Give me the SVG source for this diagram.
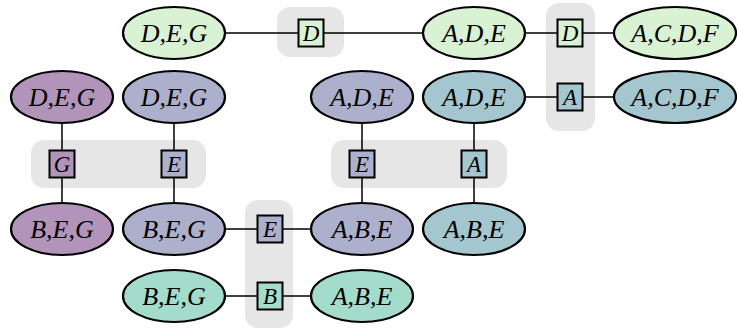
<svg xmlns="http://www.w3.org/2000/svg" width="737" height="329" viewBox="0 0 737 329">
<style>
.bg{fill:#e6e6e6;stroke:none}
.e{stroke:#000;stroke-width:2.2}
.s{stroke:#000;stroke-width:2}
.c{stroke:#000;stroke-width:1.5;fill:none}
.t,.ts{font-family:'Liberation Serif','DejaVu Serif',serif;font-style:italic;text-anchor:middle;dominant-baseline:central;fill:#000}
.t{font-size:26px}
.ts{font-size:23px}
.g{fill:#d9f2d4}.p{fill:#b294ba}.l{fill:#adb0cc}.b{fill:#a4c6ce}.m{fill:#a4dccc}
</style>
<g id="groups">
<rect class="bg" x="277" y="7" width="67" height="50" rx="13"/>
<rect class="bg" x="546" y="3" width="49" height="128" rx="13"/>
<rect class="bg" x="31" y="140" width="175" height="48" rx="13"/>
<rect class="bg" x="331" y="140" width="176" height="48" rx="13"/>
<rect class="bg" x="245" y="200" width="48" height="128" rx="13"/>
</g>
<g id="connectors">
<path class="c" d="M226 33H423M526 33H614M526 97H614"/>
<path class="c" d="M62 123V203M174 123V203M362 123V203M474 123V203"/>
<path class="c" d="M226 229H311M226 296H311"/>
</g>
<g id="n1"><ellipse class="e g" cx="174" cy="33" rx="51" ry="26"/><text class="t" x="174" y="33">D,E,G</text></g>
<g id="n2"><ellipse class="e g" cx="474" cy="33" rx="51" ry="26"/><text class="t" x="474" y="33">A,D,E</text></g>
<g id="n3"><ellipse class="e g" cx="675" cy="33" rx="61" ry="26"/><text class="t" x="675" y="33">A,C,D,F</text></g>
<g id="n4"><ellipse class="e p" cx="62" cy="97" rx="51" ry="26"/><text class="t" x="62" y="97">D,E,G</text></g>
<g id="n5"><ellipse class="e l" cx="174" cy="97" rx="51" ry="26"/><text class="t" x="174" y="97">D,E,G</text></g>
<g id="n6"><ellipse class="e l" cx="362" cy="97" rx="51" ry="26"/><text class="t" x="362" y="97">A,D,E</text></g>
<g id="n7"><ellipse class="e b" cx="474" cy="97" rx="51" ry="26"/><text class="t" x="474" y="97">A,D,E</text></g>
<g id="n8"><ellipse class="e b" cx="675" cy="97" rx="61" ry="26"/><text class="t" x="675" y="97">A,C,D,F</text></g>
<g id="n9"><ellipse class="e p" cx="62" cy="229" rx="51" ry="26"/><text class="t" x="62" y="229">B,E,G</text></g>
<g id="n10"><ellipse class="e l" cx="174" cy="229" rx="51" ry="26"/><text class="t" x="174" y="229">B,E,G</text></g>
<g id="n11"><ellipse class="e l" cx="362" cy="229" rx="51" ry="26"/><text class="t" x="362" y="229">A,B,E</text></g>
<g id="n12"><ellipse class="e b" cx="474" cy="229" rx="51" ry="26"/><text class="t" x="474" y="229">A,B,E</text></g>
<g id="n13"><ellipse class="e m" cx="174" cy="296" rx="51" ry="26"/><text class="t" x="174" y="296">B,E,G</text></g>
<g id="n14"><ellipse class="e m" cx="362" cy="296" rx="51" ry="26"/><text class="t" x="362" y="296">A,B,E</text></g>
<g id="s1"><rect class="s g" x="298.5" y="19.5" width="25" height="27"/><text class="ts" x="311" y="33">D</text></g>
<g id="s2"><rect class="s g" x="557.5" y="19.5" width="25" height="27"/><text class="ts" x="570" y="33">D</text></g>
<g id="s3"><rect class="s b" x="557.5" y="83.5" width="25" height="27"/><text class="ts" x="570" y="97">A</text></g>
<g id="s4"><rect class="s p" x="49.5" y="150.5" width="25" height="27"/><text class="ts" x="62" y="164">G</text></g>
<g id="s5"><rect class="s l" x="161.5" y="150.5" width="25" height="27"/><text class="ts" x="174" y="164">E</text></g>
<g id="s6"><rect class="s l" x="349.5" y="150.5" width="25" height="27"/><text class="ts" x="362" y="164">E</text></g>
<g id="s7"><rect class="s b" x="461.5" y="150.5" width="25" height="27"/><text class="ts" x="474" y="164">A</text></g>
<g id="s8"><rect class="s l" x="257.5" y="215.5" width="25" height="27"/><text class="ts" x="270" y="229">E</text></g>
<g id="s9"><rect class="s m" x="257.5" y="282.5" width="25" height="27"/><text class="ts" x="270" y="296">B</text></g>
</svg>
